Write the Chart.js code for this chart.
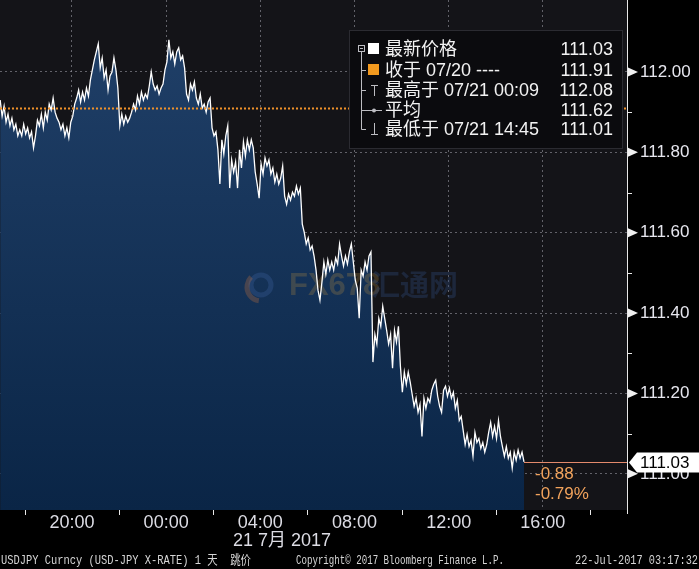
<!DOCTYPE html>
<html>
<head>
<meta charset="utf-8">
<script src="https://cdn.jsdelivr.net/npm/chart.js@4.4.1/dist/chart.umd.min.js"></script>
<style>
    html, body { margin: 0; padding: 0; background: #000; }
    #wrap { width: 699px; height: 569px; position: relative; }
</style>
</head>
<body>
<div id="wrap"><canvas id="fxChart"></canvas></div>
<script>
// USDJPY intraday, minutes since 20 Jul 00:00, 5 min samples
const times = [
    1017,1022,1027,1032,1037,1042,1047,1052,1057,1062,
    1067,1072,1077,1082,1087,1092,1097,1102,1107,1112,
    1117,1122,1127,1132,1137,1142,1147,1152,1157,1162,
    1167,1172,1177,1182,1187,1192,1197,1202,1207,1212,
    1217,1222,1227,1232,1237,1242,1247,1252,1257,1262,
    1267,1272,1277,1282,1287,1292,1297,1302,1307,1312,
    1317,1322,1327,1332,1337,1342,1347,1352,1357,1362,
    1367,1372,1377,1382,1387,1392,1397,1402,1407,1412,
    1417,1422,1427,1432,1437,1442,1447,1452,1457,1462,
    1467,1472,1477,1482,1487,1492,1497,1502,1507,1512,
    1517,1522,1527,1532,1537,1542,1547,1552,1557,1562,
    1567,1572,1577,1582,1587,1592,1597,1602,1607,1612,
    1617,1622,1627,1632,1637,1642,1647,1652,1657,1662,
    1667,1672,1677,1682,1687,1692,1697,1702,1707,1712,
    1717,1722,1727,1732,1737,1742,1747,1752,1757,1762,
    1767,1772,1777,1782,1787,1792,1797,1802,1807,1812,
    1817,1822,1827,1832,1837,1842,1847,1852,1857,1862,
    1867,1872,1877,1882,1887,1892,1897,1902,1907,1912,
    1917,1922,1927,1932,1937,1942,1947,1952,1957,1962,
    1967,1972,1977,1982,1987,1992,1997,2002,2007,2012,
    2017,2022,2027,2032,2037,2042,2047,2052,2057,2062,
    2067,2072,2077,2082,2087,2092,2097,2102,2107,2112,
    2117,2122,2127,2132,2137,2142,2147,2152,2157,2162,
    2167,2172,2177,2182,2187,2192,2197,2202,2207,2212,
    2217,2222,2227,2232,2237,2242,2247,2252,2257,2262,
    2267,2272,2277,2282,2287,2292,2297,2302,2307,2312,
    2317,2322,2327,2332,2337,2342,2347,2352
];

const prices = [
    111.930,111.890,111.915,111.875,111.895,111.866,111.885,111.856,111.870,111.841,
    111.856,111.841,111.870,111.846,111.861,111.836,111.851,111.811,111.841,111.880,
    111.866,111.895,111.861,111.900,111.880,111.920,111.905,111.935,111.900,111.885,
    111.875,111.856,111.870,111.841,111.861,111.836,111.875,111.890,111.920,111.935,
    111.955,111.925,111.950,111.930,111.960,111.940,111.980,112.005,112.030,112.050,
    112.070,112.010,112.035,111.985,112.005,111.955,111.990,112.000,112.035,112.005,
    111.960,111.866,111.895,111.870,111.890,111.875,111.885,111.900,111.920,111.905,
    111.940,111.920,111.950,111.930,111.945,111.935,111.965,112.000,111.970,111.955,
    111.965,111.945,111.960,111.970,112.005,112.025,112.080,112.035,112.050,112.020,
    112.050,112.060,112.030,112.040,112.010,111.945,111.930,111.970,111.955,111.975,
    111.935,111.920,111.945,111.910,111.920,111.900,111.925,111.935,111.861,111.841,
    111.851,111.806,111.721,111.831,111.796,111.841,111.866,111.711,111.781,111.751,
    111.776,111.711,111.806,111.761,111.826,111.791,111.831,111.806,111.831,111.811,
    111.751,111.721,111.686,111.771,111.746,111.786,111.766,111.781,111.746,111.761,
    111.726,111.746,111.721,111.736,111.766,111.691,111.671,111.696,111.681,111.701,
    111.691,111.716,111.696,111.711,111.621,111.601,111.572,111.587,111.557,111.567,
    111.542,111.507,111.457,111.432,111.477,111.527,111.497,111.532,111.507,111.527,
    111.507,111.537,111.522,111.572,111.542,111.517,111.542,111.522,111.552,111.572,
    111.527,111.482,111.462,111.387,111.507,111.492,111.527,111.507,111.542,111.552,
    111.278,111.347,111.323,111.387,111.367,111.417,111.387,111.357,111.323,111.347,
    111.263,111.357,111.328,111.367,111.268,111.203,111.253,111.223,111.253,111.228,
    111.198,111.168,111.188,111.153,111.173,111.093,111.188,111.163,111.188,111.178,
    111.208,111.223,111.233,111.193,111.168,111.153,111.208,111.218,111.193,111.213,
    111.188,111.203,111.163,111.183,111.133,111.143,111.108,111.073,111.098,111.068,
    111.083,111.044,111.103,111.078,111.088,111.063,111.078,111.054,111.073,111.103,
    111.128,111.093,111.118,111.088,111.133,111.093,111.068,111.044,111.068,111.039,
    111.054,111.014,111.054,111.034,111.059,111.039,111.054,111.030
];

const xTickValues = [1200, 1440, 1680, 1920, 2160, 2400];
const xTickLabels = ['20:00', '00:00', '04:00', '08:00', '12:00', '16:00'];
const xMinorTicks = [1080, 1320, 1560, 1800, 2040, 2280, 2520];
const yTickValues = [111.00, 111.20, 111.40, 111.60, 111.80, 112.00];
const yMinorTicks = [111.10, 111.30, 111.50, 111.70, 111.90];

const lastPrice = 111.03;
const prevClose = 111.91;
const changeText = '-0.88';
const changePctText = '-0.79%';
const dateLabel = '21 7月 2017';

const legendRows = [
    { icon: 'square', color: '#ffffff', label: '最新价格', value: '111.03' },
    { icon: 'square', color: '#f39a1f', label: '收于 07/20 ----', value: '111.91' },
    { icon: 'high', label: '最高于 07/21 00:09', value: '112.08' },
    { icon: 'avg', label: '平均', value: '111.62' },
    { icon: 'low', label: '最低于 07/21 14:45', value: '111.01' }
];

const footerLeft = 'USDJPY Curncy (USD-JPY X-RATE) 1 天  跳价';
const footerMid = 'Copyright\u00a9 2017 Bloomberg Finance L.P.';
const footerRight = '22-Jul-2017 03:17:32';

const FONT = '"Liberation Sans", "Noto Sans CJK SC", sans-serif';
Chart.defaults.font.family = FONT;

// squeeze a string into a given width (terminal style footer)
function drawFitted(ctx, text, x, y, width) {
    const w = ctx.measureText(text).width;
    ctx.save();
    ctx.translate(x, y);
    ctx.scale(Math.min(1, width / w), 1);
    ctx.fillText(text, 0, 0);
    ctx.restore();
}

const backdrop = {
    id: 'backdrop',
    beforeDraw(chart) {
        const { ctx, chartArea: a } = chart;
        ctx.save();
        ctx.fillStyle = '#000';
        ctx.fillRect(0, 0, chart.width, chart.height);
        ctx.fillStyle = '#141418';
        ctx.fillRect(a.left, a.top, a.right - a.left, a.bottom - a.top);
        ctx.restore();
    },
    // faint watermark, sits between the fill and the price line
    beforeDatasetDraw(chart) {
        const ctx = chart.ctx;
        ctx.save();
        ctx.lineWidth = 5;
        ctx.strokeStyle = 'rgba(70,110,180,0.25)';
        ctx.beginPath(); ctx.arc(261, 285, 10, 0, Math.PI * 2); ctx.stroke();
        ctx.strokeStyle = 'rgba(210,120,60,0.28)';
        ctx.beginPath(); ctx.arc(261, 287, 14, Math.PI * 0.55, Math.PI * 1.25); ctx.stroke();
        ctx.textBaseline = 'middle';
        ctx.font = 'bold 31px "Liberation Sans"';
        ctx.fillStyle = 'rgba(175,135,65,0.28)';
        ctx.fillText('FX678', 289, 286);
        ctx.font = 'bold 29px "Noto Sans CJK SC"';
        ctx.fillStyle = 'rgba(45,75,125,0.35)';
        ctx.fillText('汇通网', 371, 285);
        ctx.restore();
    }
};

const overlays = {
    id: 'overlays',
    afterDraw(chart) {
        const { ctx, chartArea: a, scales: { x, y } } = chart;
        ctx.save();

        // 1. previous close, dotted orange
        const yPrev = Math.round(y.getPixelForValue(prevClose)) + 0.5;
        ctx.strokeStyle = '#f0922a';
        ctx.lineWidth = 2;
        ctx.setLineDash([2, 2]);
        ctx.beginPath(); ctx.moveTo(a.left, yPrev); ctx.lineTo(a.right, yPrev); ctx.stroke();
        ctx.setLineDash([]);

        // 2. last price line + change labels
        const xEnd = x.getPixelForValue(times[times.length - 1]);
        const yLast = Math.round(y.getPixelForValue(lastPrice)) + 0.5;
        ctx.strokeStyle = '#e48a6c';
        ctx.lineWidth = 1;
        ctx.beginPath(); ctx.moveTo(xEnd, yLast); ctx.lineTo(a.right, yLast); ctx.stroke();
        ctx.fillStyle = '#f2a35c';
        ctx.font = '17px ' + FONT;
        ctx.textBaseline = 'middle';
        ctx.textAlign = 'left';
        ctx.fillText(changeText, xEnd + 11, yLast + 12);
        ctx.fillText(changePctText, xEnd + 11, yLast + 32);

        // 3. right axis: line, markers, minor ticks
        ctx.strokeStyle = '#e8e8e8';
        ctx.beginPath(); ctx.moveTo(a.right + 0.5, a.top); ctx.lineTo(a.right + 0.5, a.bottom + 4); ctx.stroke();
        yMinorTicks.forEach(v => {
            const py = Math.round(y.getPixelForValue(v)) + 0.5;
            ctx.beginPath(); ctx.moveTo(a.right, py); ctx.lineTo(a.right + 5, py); ctx.stroke();
        });
        ctx.fillStyle = '#f0f0f0';
        yTickValues.forEach(v => {
            const py = y.getPixelForValue(v);
            ctx.beginPath();
            ctx.moveTo(a.right + 1, py - 4.5);
            ctx.lineTo(a.right + 11, py);
            ctx.lineTo(a.right + 1, py + 4.5);
            ctx.closePath(); ctx.fill();
        });
        xMinorTicks.forEach(v => {
            const px = Math.round(x.getPixelForValue(v)) + 0.5;
            ctx.beginPath(); ctx.moveTo(px, a.bottom); ctx.lineTo(px, a.bottom + 5); ctx.stroke();
        });

        // 4. last price flag on the axis
        ctx.fillStyle = '#ffffff';
        ctx.beginPath();
        ctx.moveTo(a.right + 2, yLast);
        ctx.lineTo(a.right + 10, yLast - 10);
        ctx.lineTo(chart.width, yLast - 10);
        ctx.lineTo(chart.width, yLast + 10);
        ctx.lineTo(a.right + 10, yLast + 10);
        ctx.closePath(); ctx.fill();
        ctx.fillStyle = '#000';
        ctx.fillText(lastPrice.toFixed(2), a.right + 13, yLast + 1);

        // 5. legend box
        const bx = 349, by = 30, bw = 274, bh = 119;
        ctx.fillStyle = '#0b0b0e';
        ctx.fillRect(bx, by, bw, bh);
        ctx.strokeStyle = '#2b2b31';
        ctx.strokeRect(bx + 0.5, by + 0.5, bw - 1, bh - 1);
        const rowY = [49, 70, 90, 110, 129];
        ctx.strokeStyle = '#bdbdc2';
        ctx.lineWidth = 1;
        ctx.strokeRect(358.5, 45.5, 6, 6);
        ctx.beginPath(); ctx.moveTo(360, 48.5); ctx.lineTo(363, 48.5); ctx.stroke();
        ctx.beginPath(); ctx.moveTo(361.5, 52); ctx.lineTo(361.5, rowY[4] + 0.5); ctx.stroke();
        rowY.slice(1).forEach(ry => {
            ctx.beginPath(); ctx.moveTo(361.5, ry + 0.5); ctx.lineTo(366, ry + 0.5); ctx.stroke();
        });
        ctx.font = '18px ' + FONT;
        legendRows.forEach((r, i) => {
            const ry = rowY[i];
            if (r.icon === 'square') {
                ctx.fillStyle = r.color;
                ctx.fillRect(368, ry - 6, 11, 11);
            } else if (r.icon === 'high') {
                ctx.beginPath();
                ctx.moveTo(371, ry - 4.5); ctx.lineTo(378, ry - 4.5);
                ctx.moveTo(374.5, ry - 4.5); ctx.lineTo(374.5, ry + 6);
                ctx.stroke();
            } else if (r.icon === 'low') {
                ctx.beginPath();
                ctx.moveTo(374.5, ry - 6); ctx.lineTo(374.5, ry + 5.5);
                ctx.moveTo(371, ry + 5.5); ctx.lineTo(378, ry + 5.5);
                ctx.stroke();
            } else {
                ctx.beginPath(); ctx.moveTo(366, ry + 0.5); ctx.lineTo(382, ry + 0.5); ctx.stroke();
                ctx.fillStyle = '#bdbdc2';
                ctx.beginPath(); ctx.arc(374, ry + 0.5, 2, 0, Math.PI * 2); ctx.fill();
            }
            ctx.fillStyle = '#f2f2f2';
            ctx.textAlign = 'left';
            ctx.fillText(r.label, 385, ry + 1);
            ctx.textAlign = 'right';
            ctx.fillText(r.value, 613, ry + 1);
        });

        // 6. date under the time axis + footer line
        ctx.fillStyle = '#dcdce4';
        ctx.textAlign = 'center';
        ctx.font = '18px ' + FONT;
        ctx.fillText(dateLabel, 282, 541);
        ctx.textAlign = 'left';
        ctx.fillStyle = '#d6d6d6';
        ctx.font = '13px "Liberation Mono", "Noto Sans CJK SC", monospace';
        drawFitted(ctx, footerLeft, 1, 561, 250);
        drawFitted(ctx, footerMid, 296, 561, 208);
        drawFitted(ctx, footerRight, 575, 561, 123);

        ctx.restore();
    }
};

const ctxFx = document.getElementById('fxChart').getContext('2d');
const fxChart = new Chart(ctxFx, {
    type: 'line',
    data: {
        datasets: [{
            data: times.map((t, i) => ({ x: t, y: prices[i] })),
            borderColor: '#ffffff',
            borderWidth: 1.3,
            pointRadius: 0,
            tension: 0,
            fill: 'start',
            backgroundColor: (context) => {
                const { ctx, chartArea } = context.chart;
                if (!chartArea) return '#10305a';
                const g = ctx.createLinearGradient(0, chartArea.top, 0, chartArea.bottom);
                g.addColorStop(0, '#21416a');
                g.addColorStop(1, '#0a2546');
                return g;
            }
        }]
    },
    options: {
        responsive: true,
        maintainAspectRatio: false,
        animation: false,
        parsing: false,
        layout: { padding: 0 },
        plugins: { legend: { display: false }, tooltip: { enabled: false } },
        scales: {
            x: {
                type: 'linear',
                min: 1016.6,
                max: 2614.5,
                z: 1,
                afterFit: (scale) => {
                    scale.height = 59;
                    scale.paddingLeft = 0;
                    scale.paddingRight = 0;
                },
                afterBuildTicks: (scale) => { scale.ticks = xTickValues.map(v => ({ value: v })); },
                grid: { color: 'rgba(150,150,160,0.6)', drawTicks: false },
                border: { display: false, dash: [2, 3] },
                ticks: {
                    color: '#dcdce4',
                    font: { size: 18 },
                    padding: 2,
                    maxRotation: 0,
                    autoSkip: false,
                    callback: (value, index) => xTickLabels[index]
                }
            },
            y: {
                position: 'right',
                min: 110.91,
                max: 112.179,
                z: 1,
                afterFit: (scale) => {
                    scale.width = 72;
                    scale.paddingTop = 0;
                    scale.paddingBottom = 0;
                },
                afterBuildTicks: (scale) => { scale.ticks = yTickValues.map(v => ({ value: v })); },
                grid: { color: 'rgba(150,150,160,0.6)', drawTicks: false },
                border: { display: false, dash: [2, 3] },
                ticks: {
                    color: '#e6e6ee',
                    font: { size: 17 },
                    padding: 13,
                    callback: (value) => Number(value).toFixed(2)
                }
            }
        }
    },
    plugins: [backdrop, overlays]
});
</script>
</body>
</html>
